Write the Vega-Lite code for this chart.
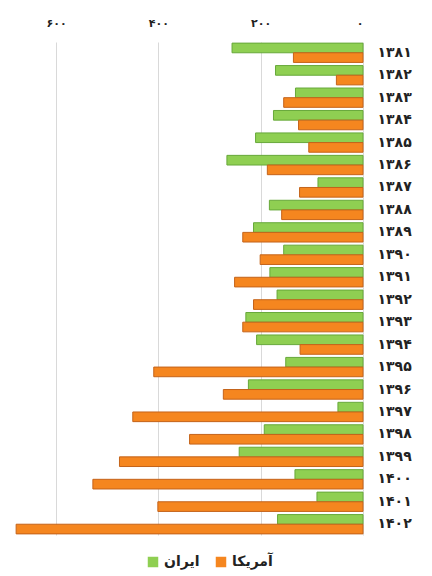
{
  "$schema": "https://vega.github.io/schema/vega-lite/v6.json",
  "autosize": "none",
  "width": 353,
  "height": 493,
  "padding": {"left": 10, "top": 42, "right": 69, "bottom": 41},
  "background": "white",
  "config": {
    "view": {"stroke": null},
    "font": "DejaVu Sans"
  },
  "data": {
    "values": [
      {"year": "۱۳۸۱", "country": "ایران", "value": 256},
      {"year": "۱۳۸۱", "country": "آمریکا", "value": 136},
      {"year": "۱۳۸۲", "country": "ایران", "value": 171},
      {"year": "۱۳۸۲", "country": "آمریکا", "value": 52},
      {"year": "۱۳۸۳", "country": "ایران", "value": 132},
      {"year": "۱۳۸۳", "country": "آمریکا", "value": 155},
      {"year": "۱۳۸۴", "country": "ایران", "value": 175},
      {"year": "۱۳۸۴", "country": "آمریکا", "value": 126},
      {"year": "۱۳۸۵", "country": "ایران", "value": 210},
      {"year": "۱۳۸۵", "country": "آمریکا", "value": 106},
      {"year": "۱۳۸۶", "country": "ایران", "value": 266},
      {"year": "۱۳۸۶", "country": "آمریکا", "value": 187},
      {"year": "۱۳۸۷", "country": "ایران", "value": 88},
      {"year": "۱۳۸۷", "country": "آمریکا", "value": 124},
      {"year": "۱۳۸۸", "country": "ایران", "value": 183},
      {"year": "۱۳۸۸", "country": "آمریکا", "value": 159},
      {"year": "۱۳۸۹", "country": "ایران", "value": 214},
      {"year": "۱۳۸۹", "country": "آمریکا", "value": 235},
      {"year": "۱۳۹۰", "country": "ایران", "value": 155},
      {"year": "۱۳۹۰", "country": "آمریکا", "value": 201},
      {"year": "۱۳۹۱", "country": "ایران", "value": 182},
      {"year": "۱۳۹۱", "country": "آمریکا", "value": 251},
      {"year": "۱۳۹۲", "country": "ایران", "value": 168},
      {"year": "۱۳۹۲", "country": "آمریکا", "value": 214},
      {"year": "۱۳۹۳", "country": "ایران", "value": 229},
      {"year": "۱۳۹۳", "country": "آمریکا", "value": 235},
      {"year": "۱۳۹۴", "country": "ایران", "value": 208},
      {"year": "۱۳۹۴", "country": "آمریکا", "value": 123},
      {"year": "۱۳۹۵", "country": "ایران", "value": 151},
      {"year": "۱۳۹۵", "country": "آمریکا", "value": 409},
      {"year": "۱۳۹۶", "country": "ایران", "value": 224},
      {"year": "۱۳۹۶", "country": "آمریکا", "value": 273},
      {"year": "۱۳۹۷", "country": "ایران", "value": 49},
      {"year": "۱۳۹۷", "country": "آمریکا", "value": 450},
      {"year": "۱۳۹۸", "country": "ایران", "value": 193},
      {"year": "۱۳۹۸", "country": "آمریکا", "value": 339},
      {"year": "۱۳۹۹", "country": "ایران", "value": 242},
      {"year": "۱۳۹۹", "country": "آمریکا", "value": 476},
      {"year": "۱۴۰۰", "country": "ایران", "value": 133},
      {"year": "۱۴۰۰", "country": "آمریکا", "value": 528},
      {"year": "۱۴۰۱", "country": "ایران", "value": 90},
      {"year": "۱۴۰۱", "country": "آمریکا", "value": 401},
      {"year": "۱۴۰۲", "country": "ایران", "value": 167},
      {"year": "۱۴۰۲", "country": "آمریکا", "value": 678}
    ]
  },
  "mark": {"type": "bar", "strokeWidth": 1},
  "encoding": {
    "y": {
      "field": "year",
      "type": "nominal",
      "sort": null,
      "title": null,
      "scale": {"paddingInner": 0.14, "paddingOuter": 0.05},
      "axis": {
        "orient": "right",
        "domain": false,
        "ticks": false,
        "labelPadding": 14,
        "labelAlign": "left",
        "labelFontSize": 14,
        "labelFontWeight": "bold",
        "labelColor": "#222222"
      }
    },
    "yOffset": {
      "field": "country",
      "type": "nominal",
      "sort": ["ایران", "آمریکا"],
      "scale": {"paddingInner": 0}
    },
    "x": {
      "field": "value",
      "type": "quantitative",
      "title": null,
      "scale": {"domain": [0, 690], "reverse": true, "nice": false},
      "axis": {
        "orient": "top",
        "values": [0, 200, 400, 600],
        "labelExpr": "datum.value == 0 ? '۰' : datum.value == 200 ? '۲۰۰' : datum.value == 400 ? '۴۰۰' : '۶۰۰'",
        "domain": false,
        "ticks": false,
        "grid": true,
        "gridColor": "#d9d9d9",
        "labelPadding": 14,
        "labelFontSize": 11,
        "labelFontWeight": "bold",
        "labelColor": "#222222"
      }
    },
    "color": {
      "field": "country",
      "type": "nominal",
      "scale": {"domain": ["ایران", "آمریکا"], "range": ["#8fcf52", "#f5861f"]},
      "legend": {
        "orient": "none",
        "legendX": 136,
        "legendY": 513,
        "direction": "horizontal",
        "title": null,
        "symbolType": "square",
        "symbolSize": 110,
        "symbolStrokeWidth": 0,
        "labelFontSize": 14,
        "labelFontWeight": "bold",
        "labelColor": "#222222",
        "columnPadding": 14
      }
    },
    "stroke": {
      "field": "country",
      "type": "nominal",
      "scale": {"domain": ["ایران", "آمریکا"], "range": ["#67a83a", "#c4631a"]},
      "legend": null
    }
  }
}
